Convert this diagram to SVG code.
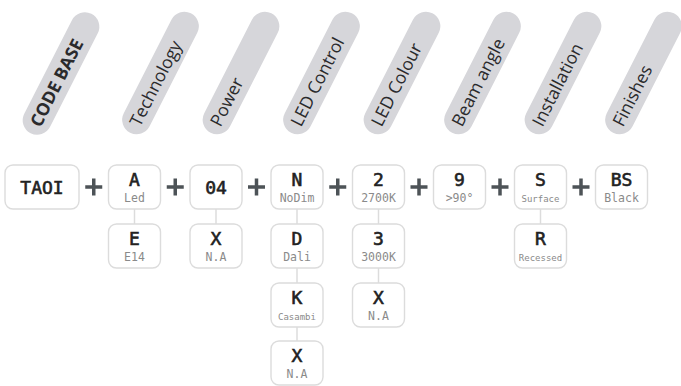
<svg xmlns="http://www.w3.org/2000/svg" width="681" height="386" viewBox="0 0 681 386">
<style>
.pill{fill:#d6d6da}
.pt{font-family:"Open Sans","Noto Sans","DejaVu Sans",sans-serif;font-size:17.5px;fill:#2a2a2c}
.pb{font-weight:700}
.box{fill:#fff;stroke:#dcdcdc;stroke-width:1.4}
.m{font-family:"DejaVu Sans Mono","Liberation Mono",monospace;font-size:18px;fill:#222;stroke:#222;stroke-width:0.6;text-anchor:middle}
.l{font-family:"DejaVu Sans Mono","Liberation Mono",monospace;font-size:11.5px;fill:#8a8a8a;text-anchor:middle}
.s{font-size:9px}
.plus{stroke:#4d5357;stroke-width:3.5;fill:none}
.con{stroke:#dcdcdc;stroke-width:1.5;fill:none}
</style>
<defs>
<rect id="pillshape" x="-67" y="-14.5" width="134" height="29" rx="14.5" class="pill"/>
<path id="plus" d="M-8.5 0H8.5M0 -8.5V8.5" class="plus"/>
</defs>
<g id="headers">
<g id="h-codebase" transform="translate(61 73.5) rotate(-63)"><use href="#pillshape"/><text class="pt pb" x="-58" y="6.5">CODE BASE</text></g>
<g id="h-technology" transform="translate(160.5 73) rotate(-63)"><use href="#pillshape"/><text class="pt" x="-58" y="6.5">Technology</text></g>
<g id="h-power" transform="translate(241 73) rotate(-63)"><use href="#pillshape"/><text class="pt" x="-58" y="6.5">Power</text></g>
<g id="h-ledcontrol" transform="translate(321.5 73) rotate(-63)"><use href="#pillshape"/><text class="pt" x="-58" y="6.5">LED Control</text></g>
<g id="h-ledcolour" transform="translate(402 73) rotate(-63)"><use href="#pillshape"/><text class="pt" x="-58" y="6.5">LED Colour</text></g>
<g id="h-beam" transform="translate(482.5 73) rotate(-63)"><use href="#pillshape"/><text class="pt" x="-58" y="6.5">Beam angle</text></g>
<g id="h-install" transform="translate(563 73) rotate(-63)"><use href="#pillshape"/><text class="pt" x="-58" y="6.5">Installation</text></g>
<g id="h-finishes" transform="translate(643.5 73) rotate(-63)"><use href="#pillshape"/><text class="pt" x="-58" y="6.5">Finishes</text></g>
</g>
<g id="connectors">
<line class="con" x1="134.5" y1="209" x2="134.5" y2="224"/>
<line class="con" x1="216" y1="209" x2="216" y2="224"/>
<line class="con" x1="297" y1="209" x2="297" y2="224"/>
<line class="con" x1="297" y1="268" x2="297" y2="283"/>
<line class="con" x1="297" y1="327" x2="297" y2="341"/>
<line class="con" x1="378.5" y1="209" x2="378.5" y2="224"/>
<line class="con" x1="378.5" y1="268" x2="378.5" y2="283"/>
<line class="con" x1="540.5" y1="209" x2="540.5" y2="224"/>
</g>
<g id="plus-signs">
<use href="#plus" x="93.75" y="187"/>
<use href="#plus" x="175.25" y="187"/>
<use href="#plus" x="256.5" y="187"/>
<use href="#plus" x="337.75" y="187"/>
<use href="#plus" x="419" y="187"/>
<use href="#plus" x="500" y="187"/>
<use href="#plus" x="581" y="187"/>
</g>
<g id="n-taoi"><rect class="box" x="5" y="165" width="74" height="44" rx="8"/><text class="m" x="42" y="193.5">TAOI</text></g>
<g id="n-a"><rect class="box" x="108.5" y="165" width="52" height="44" rx="8"/><text class="m" x="134.5" y="186">A</text><text class="l" x="134.5" y="201.5">Led</text></g>
<g id="n-e"><rect class="box" x="108.5" y="224" width="52" height="44" rx="8"/><text class="m" x="134.5" y="245">E</text><text class="l" x="134.5" y="260.5">E14</text></g>
<g id="n-04"><rect class="box" x="190" y="165" width="52" height="44" rx="8"/><text class="m" x="216" y="193.5">04</text></g>
<g id="n-x1"><rect class="box" x="190" y="224" width="52" height="44" rx="8"/><text class="m" x="216" y="245">X</text><text class="l" x="216" y="260.5">N.A</text></g>
<g id="n-n"><rect class="box" x="271" y="165" width="52" height="44" rx="8"/><text class="m" x="297" y="186">N</text><text class="l" x="297" y="201.5">NoDim</text></g>
<g id="n-d"><rect class="box" x="271" y="224" width="52" height="44" rx="8"/><text class="m" x="297" y="245">D</text><text class="l" x="297" y="260.5">Dali</text></g>
<g id="n-k"><rect class="box" x="271" y="283" width="52" height="44" rx="8"/><text class="m" x="297" y="304">K</text><text class="l s" x="297" y="319.5">Casambi</text></g>
<g id="n-x2"><rect class="box" x="271" y="341" width="52" height="44" rx="8"/><text class="m" x="297" y="362">X</text><text class="l" x="297" y="377.5">N.A</text></g>
<g id="n-2"><rect class="box" x="352.5" y="165" width="52" height="44" rx="8"/><text class="m" x="378.5" y="186">2</text><text class="l" x="378.5" y="201.5">2700K</text></g>
<g id="n-3"><rect class="box" x="352.5" y="224" width="52" height="44" rx="8"/><text class="m" x="378.5" y="245">3</text><text class="l" x="378.5" y="260.5">3000K</text></g>
<g id="n-x3"><rect class="box" x="352.5" y="283" width="52" height="44" rx="8"/><text class="m" x="378.5" y="304">X</text><text class="l" x="378.5" y="319.5">N.A</text></g>
<g id="n-9"><rect class="box" x="433.5" y="165" width="52" height="44" rx="8"/><text class="m" x="459.5" y="186">9</text><text class="l" x="459.5" y="201.5">&gt;90°</text></g>
<g id="n-s"><rect class="box" x="514.5" y="165" width="52" height="44" rx="8"/><text class="m" x="540.5" y="186">S</text><text class="l s" x="540.5" y="201.5">Surface</text></g>
<g id="n-r"><rect class="box" x="514.5" y="224" width="52" height="44" rx="8"/><text class="m" x="540.5" y="245">R</text><text class="l s" x="540.5" y="260.5">Recessed</text></g>
<g id="n-bs"><rect class="box" x="595.5" y="165" width="52" height="44" rx="8"/><text class="m" x="621.5" y="186">BS</text><text class="l" x="621.5" y="201.5">Black</text></g>
</svg>
